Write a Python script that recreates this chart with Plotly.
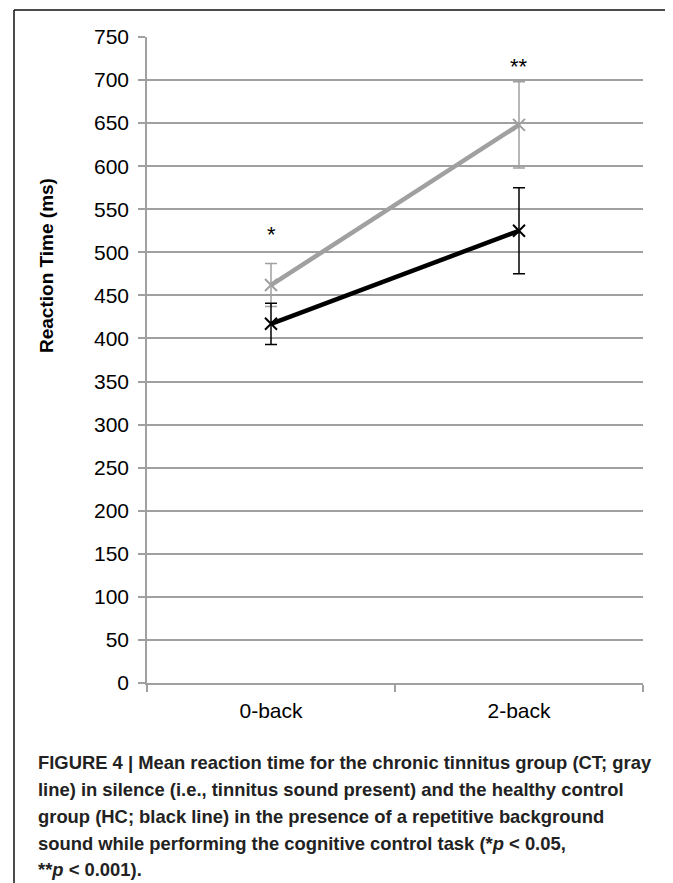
import plotly.graph_objects as go

categories = ["0-back", "2-back"]
ct_mean = [462, 648]
ct_err = [25, 50]
hc_mean = [417, 525]
hc_err = [24, 50]
sig_labels = ["*", "**"]
sig_y = [521, 716]
y_ticks = list(range(0, 751, 50))
caption_lines = [
    "FIGURE 4 | Mean reaction time for the chronic tinnitus group (CT; gray",
    "line) in silence (i.e., tinnitus sound present) and the healthy control",
    "group (HC; black line) in the presence of a repetitive background",
    "sound while performing the cognitive control task (*<i>p</i> &lt; 0.05,",
    "**<i>p</i> &lt; 0.001).",
]

OFF = 8  # page body margin
W, H = 673 - OFF, 883 - OFF
L, R, T, B = 147, 643, 37, 683  # plot area in window pixels


def px(x):
    return (x - L) / (R - L)


def py(y):
    return (B - y) / (B - T)


GRAY = "#a0a0a0"
fig = go.Figure()
fig.add_trace(go.Scatter(
    x=categories, y=ct_mean, mode="lines+markers",
    line=dict(color=GRAY, width=4.5),
    marker=dict(symbol="x-thin", size=12, line=dict(width=2, color=GRAY), color=GRAY),
    error_y=dict(type="data", array=ct_err, visible=True, color=GRAY, thickness=1.5, width=6),
    showlegend=False,
))
fig.add_trace(go.Scatter(
    x=categories, y=hc_mean, mode="lines+markers",
    line=dict(color="#000000", width=4.5),
    marker=dict(symbol="x-thin", size=12, line=dict(width=2, color="#000000"), color="#000000"),
    error_y=dict(type="data", array=hc_err, visible=True, color="#000000", thickness=1.5, width=6),
    showlegend=False,
))

annotations = []
for c, s, yv in zip(categories, sig_labels, sig_y):
    annotations.append(dict(x=c, y=yv, xref="x", yref="y", text=s, showarrow=False,
                            font=dict(family="Liberation Sans, Arial", size=22, color="#000")))

annotations.append(dict(x=px(46), y=py(266), xref="paper", yref="paper",
                        xanchor="center", yanchor="middle",
                        text="<b>Reaction Time (ms)</b>", textangle=-90, showarrow=False,
                        font=dict(family="Liberation Sans, Arial", size=19, color="#000")))

cap_y = [762, 789, 816, 843, 869]
for line, yy in zip(caption_lines, cap_y):
    annotations.append(dict(x=px(36), y=py(yy), xref="paper", yref="paper",
                            xanchor="left", yanchor="middle", text="<b>" + line + "</b>",
                            showarrow=False,
                            font=dict(family="Liberation Sans Narrow, Arial Narrow, Liberation Sans",
                                      size=18.4, color="#222")))

frame_col = "#111"
fx0, fx1, fy0 = 14, 668, 10
shapes = [
    dict(type="line", xref="paper", yref="paper", x0=px(fx0), x1=px(fx1), y0=py(fy0), y1=py(fy0),
         line=dict(color=frame_col, width=1.5)),
    dict(type="line", xref="paper", yref="paper", x0=px(fx0), x1=px(fx0), y0=py(fy0), y1=py(900),
         line=dict(color=frame_col, width=1.5)),
    dict(type="line", xref="paper", yref="paper", x0=px(fx1), x1=px(fx1), y0=py(fy0), y1=py(900),
         line=dict(color=frame_col, width=1.5)),
]

fig.update_layout(
    width=W, height=H,
    margin=dict(l=L - OFF, r=673 - R, t=T - OFF, b=883 - B),
    paper_bgcolor="white", plot_bgcolor="white",
    font=dict(family="Liberation Sans, Arial", size=22, color="#000"),
    annotations=annotations, shapes=shapes,
    xaxis=dict(type="category", range=[-0.5, 1.5], tickson="boundaries",
               ticks="outside", ticklen=7, tickcolor="#a0a0a0", tickwidth=1.5,
               showline=True, linecolor="#a0a0a0", linewidth=1.5,
               showgrid=False, tickfont=dict(size=21), ticklabelstandoff=8,
               fixedrange=True),
    yaxis=dict(range=[0, 750], tickmode="array", tickvals=y_ticks,
               ticks="outside", ticklen=7, tickcolor="#a0a0a0", tickwidth=1.5,
               showline=True, linecolor="#a0a0a0", linewidth=1.5,
               showgrid=True, gridcolor="#a0a0a0", gridwidth=1.5,
               zeroline=False, tickfont=dict(size=21), ticklabelstandoff=5,
               fixedrange=True),
)

fig.write_html("out.html")
